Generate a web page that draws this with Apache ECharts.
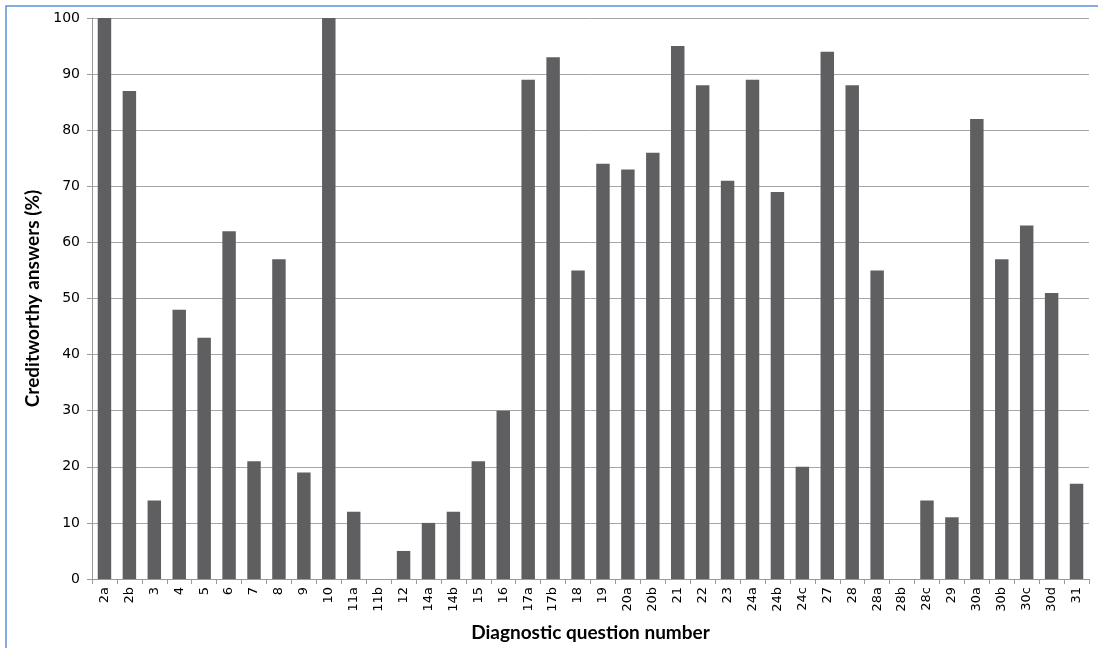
<!DOCTYPE html>
<html><head><meta charset="utf-8">
<script src="https://cdn.jsdelivr.net/npm/echarts@6/dist/echarts.min.js"></script>
<style>html,body{margin:0;padding:0;background:#fff}#c{width:1098px;height:648px}</style>
</head><body><div id="c"></div>
<script>
const categories = ['2a','2b','3','4','5','6','7','8','9','10','11a','11b','12','14a','14b','15','16','17a','17b','18','19','20a','20b','21','22','23','24a','24b','24c','27','28','28a','28b','28c','29','30a','30b','30c','30d','31'];
const values = [100,87,14,48,43,62,21,57,19,100,12,0,5,10,12,21,30,89,93,55,74,73,76,95,88,71,89,69,20,94,88,55,0,14,11,82,57,63,51,17];
const yTicks = [0,10,20,30,40,50,60,70,80,90,100];

const chart = echarts.init(document.getElementById('c'));
chart.setOption({
  animation:false,
  backgroundColor:'#fff',
  grid:{left:92,right:9,top:18,bottom:69,containLabel:false},
  graphic:[{type:'rect',shape:{x:6,y:6,width:1200,height:1000},style:{fill:'none',stroke:'#5b8fd8',lineWidth:1.5},silent:true}],
  xAxis:{
    type:'category',data:categories,
    name:'Diagnostic question number',nameLocation:'middle',nameGap:44,
    nameTextStyle:{fontFamily:'Lato',fontWeight:'bold',fontSize:19,color:'#000'},
    axisLine:{lineStyle:{color:'#9a9a9a',width:1}},
    axisTick:{show:true,alignWithLabel:false,length:5,lineStyle:{color:'#9a9a9a'}},
    axisLabel:{rotate:90,interval:0,fontFamily:'DejaVu Sans',fontSize:13,color:'#000',margin:8}
  },
  yAxis:{
    type:'value',min:0,max:100,interval:10,
    name:'Creditworthy answers (%)',nameLocation:'middle',nameGap:48,
    nameTextStyle:{fontFamily:'Lato',fontWeight:'bold',fontSize:19,color:'#000'},
    axisLine:{show:true,lineStyle:{color:'#9a9a9a'}},
    axisTick:{show:true,length:5,lineStyle:{color:'#9a9a9a'}},
    axisLabel:{fontFamily:'DejaVu Sans',fontSize:14,color:'#000',margin:12,
      formatter:v=>yTicks.includes(v)?String(v):''},
    splitLine:{lineStyle:{color:'#a6a6a6',width:1}}
  },
  series:[{type:'bar',data:values,barWidth:'54%',itemStyle:{color:'#5f5e61'}}]
});
</script></body></html>
